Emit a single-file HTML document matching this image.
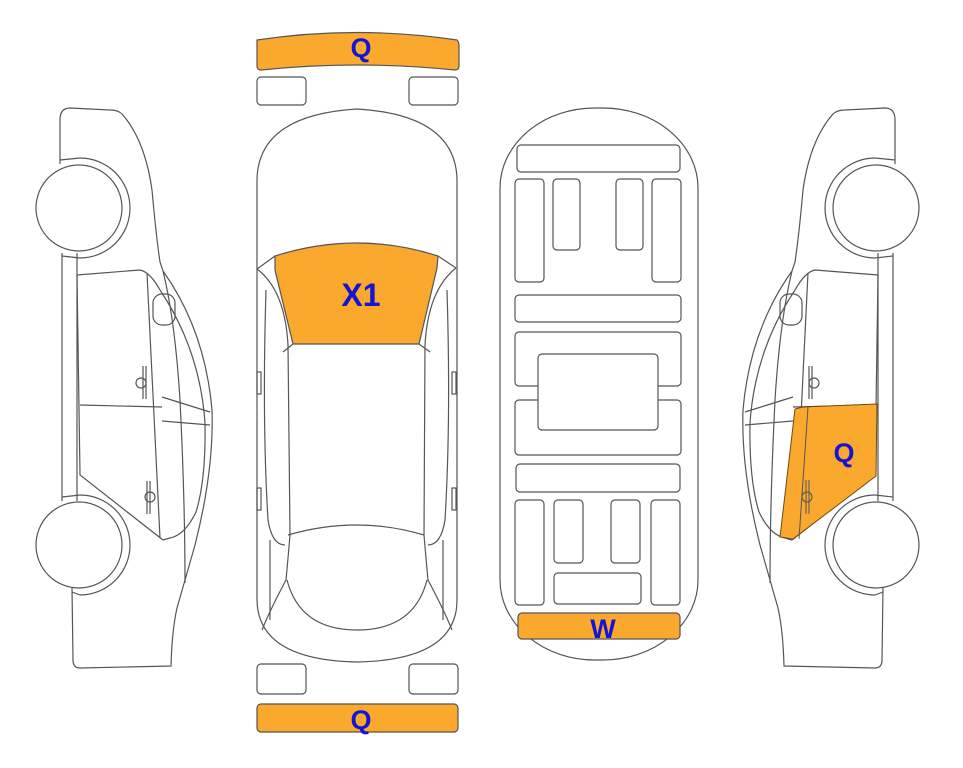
<!DOCTYPE html>
<html><head><style>
html,body{margin:0;padding:0;background:#fff;}
svg{display:block;}
text{font-family:"Liberation Sans",sans-serif;font-weight:bold;fill:#1414d2;text-anchor:middle;}
</style></head><body>
<svg width="963" height="768" viewBox="0 0 963 768" xmlns="http://www.w3.org/2000/svg">
<defs>
<g id="lc" fill="none" stroke="#555" stroke-width="1.2">
  <path d="M60,164 L60,120 Q60,108 70,108 L110,110 Q118,110 122,114 Q145,140 152,190 Q156,235 160,262 L163,271 Q205,330 212,410 Q214,470 195,545 Q185,580 177,608 Q172,630 171,666 L80,668 Q73,668 73,660 L72,588"/>
  <path d="M80,158 A50,50 0 0 1 80,258" fill="#fff"/>
  <path d="M80,495 A50,50 0 0 1 80,595" fill="#fff"/>
  <path d="M60,160 L80,158 M62,256 L80,258 M62,497 L80,495 M72,592 L80,595"/>
  <circle cx="79" cy="208" r="43" fill="#fff"/>
  <circle cx="79" cy="545" r="43" fill="#fff"/>
  <path d="M62,253 L62,501 M77,253 L77,501"/>
  <path d="M77,275 L140,270 Q150,272 160,290"/>
  <path d="M147,273 L160,538"/>
  <path d="M77,275 L80,475 L163,540"/>
  <path d="M80,405 L162,407"/>
  <path d="M160,290 Q200,350 205,423 Q206,480 196,512 Q185,535 170,538 L163,540"/>
  <path d="M162,397 L210,412 M162,421 L210,425"/>
  <path d="M163,271 Q175,320 180,400 Q185,500 185,583"/>
  <rect x="153" y="294" width="22" height="31" rx="9"/>
  <path d="M143,366 L143,399 M146,366 L146,399"/>
  <circle cx="141" cy="383" r="5"/>
  <path d="M147,481 L147,514 M150,481 L150,514"/>
  <circle cx="150" cy="497" r="5"/>
</g>
</defs>

<use href="#lc"/>
<use href="#lc" transform="matrix(-1,0,0,1,955,0)"/>
<path d="M803,407 L877,404 L876,476 L793,539 L780,537 L795,409 Z" fill="#fba92e" stroke="#6b4a10" stroke-width="1"/>
<path d="M808,407 L799,539" stroke="#555" fill="none"/>
<path d="M806,480 L806,514 M809,480 L809,514" stroke="#555"/>
<circle cx="807" cy="497" r="5" fill="none" stroke="#555"/>
<text x="844" y="462" font-size="27">Q</text>

<g fill="none" stroke="#555" stroke-width="1.2">
  <path d="M257,40 Q357,25 457,40 Q459,42 459,46 L459,66 Q459,70 455,70 Q357,60 261,70 Q257,70 257,66 L257,44 Q257,41 257,40 Z" fill="#fba92e"/>
  <rect x="257" y="77" width="49" height="28" rx="4"/>
  <rect x="409" y="77" width="49" height="28" rx="4"/>
  <rect x="257" y="664" width="49" height="30" rx="4"/>
  <rect x="409" y="664" width="49" height="30" rx="4"/>
  <rect x="257" y="704" width="201" height="28" rx="4" fill="#fba92e"/>
  <path d="M257,265 L257,180 Q258,115 357,109 Q456,115 457,180 L457,600 Q457,660 357,662 Q258,660 257,600 Z" fill="#fff"/>
  <path d="M275,256 Q357,230 438,256 L437,268 L419,344 L293,344 L275,270 Z" fill="#fba92e"/>
  <path d="M257,269 L275,256 M456,268 L438,256"/>
  <path d="M257,269 Q285,290 288,345 L290,535 Q287,570 286,580 Q270,610 262,630"/>
  <path d="M456,268 Q428,290 425,345 L424,535 Q427,570 428,580 Q444,610 452,630"/>
  <path d="M293,344 L283,352 M419,344 L430,352"/>
  <path d="M288,535 Q357,515 424,535"/>
  <path d="M287,580 Q300,630 357,630 Q414,630 427,580"/>
  <path d="M266,290 Q262,420 268,520 Q272,545 285,545"/>
  <path d="M447,290 Q451,420 445,520 Q441,545 428,545"/>
  <path d="M270,540 L270,620 M443,540 L443,620"/>
  <rect x="257" y="372" width="4" height="22"/>
  <rect x="452" y="372" width="4" height="22"/>
  <rect x="257" y="488" width="4" height="22"/>
  <rect x="452" y="488" width="4" height="22"/>
</g>
<text x="361" y="57" font-size="27">Q</text>
<text x="361" y="306" font-size="32">X1</text>
<text x="361" y="729" font-size="27">Q</text>

<g fill="#fff" stroke="#555" stroke-width="1.2">
  <rect x="500" y="108" width="198" height="552" rx="95" ry="80"/>
  <rect x="517" y="145" width="163" height="27" rx="4"/>
  <rect x="515" y="179" width="29" height="103" rx="4"/>
  <rect x="553" y="179" width="27" height="71" rx="4"/>
  <rect x="616" y="179" width="27" height="71" rx="4"/>
  <rect x="652" y="179" width="29" height="103" rx="4"/>
  <rect x="515" y="295" width="166" height="27" rx="4"/>
  <rect x="515" y="332" width="166" height="54" rx="4"/>
  <rect x="515" y="400" width="166" height="55" rx="4"/>
  <rect x="538" y="354" width="120" height="76" rx="4"/>
  <rect x="516" y="464" width="164" height="28" rx="4"/>
  <rect x="515" y="500" width="29" height="105" rx="4"/>
  <rect x="554" y="500" width="29" height="63" rx="4"/>
  <rect x="611" y="500" width="29" height="63" rx="4"/>
  <rect x="651" y="500" width="29" height="105" rx="4"/>
  <rect x="554" y="573" width="87" height="31" rx="4"/>
  <rect x="518" y="613" width="162" height="26" rx="4" fill="#fba92e"/>
</g>
<text x="603" y="638" font-size="27">W</text>
</svg>
</body></html>
